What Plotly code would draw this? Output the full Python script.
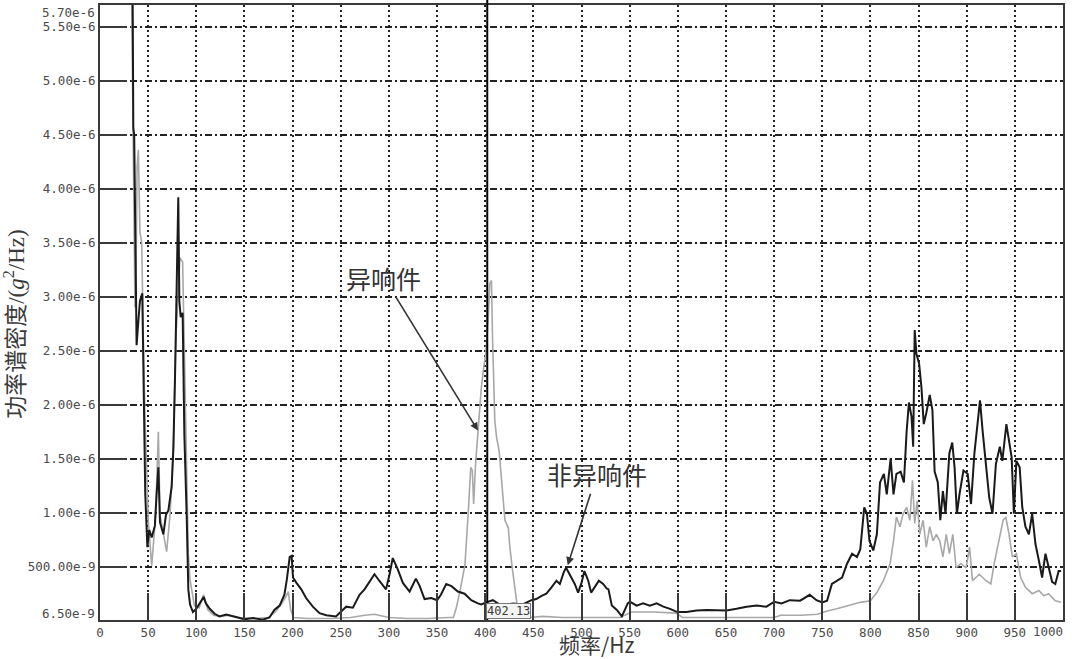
import plotly.graph_objects as go

# PSD values in units of 1e-6 g^2/Hz
freq_normal = [33.5, 34.6, 35.5, 36.3, 38, 39.8, 41.5, 43.9, 45.7, 47, 49.2, 51.2, 53.7, 57, 58.8,
               60.6, 62.3, 65.8, 68.5, 71, 74.4, 76.2, 77.9, 79.6, 81.3, 82.4, 83.8, 85.8, 87.6, 90,
               91.7, 93.5, 96.5, 100, 103.5, 107.6, 110, 114, 119, 124, 131, 138, 144, 150, 159,
               169, 176, 181, 186.5, 191.5, 194, 197, 199, 200.4, 204, 209, 214, 221, 228, 235,
               245, 250, 255.7, 262.6, 269.5, 274.7, 281.7, 285, 290, 293.8, 297, 300.7, 304, 309,
               314.5, 321.5, 328, 332, 337, 344, 350, 354, 359.5, 365, 371.6, 378.6, 385.5, 392.4,
               396, 401, 408, 415, 422, 429, 439, 448, 453, 458.5, 463.5, 469, 474, 477.5, 481.6,
               484, 488.5, 493, 496.5, 500, 503, 507, 510, 514, 518, 522.5, 526, 528, 531.5, 536.7,
               541.9, 545, 548, 550.4, 557.3, 564, 571, 578, 585, 592, 599.5, 609, 619.6, 630, 640,
               650.7, 661, 671.5, 682, 692, 700, 707.7, 716.3, 727, 737, 744, 750, 755, 760, 765.5,
               770.6, 775.8, 781, 786, 789.5, 793.6, 796.4, 799, 803, 806.7, 810, 814, 817, 821,
               824, 827, 831.4, 834.8, 837.6, 840, 842.7, 844.4, 846, 847.8, 850.6, 853, 855.4, 858,
               861.6, 864.4, 866.7, 870, 872.6, 875.3, 878, 882, 885, 887.4, 889.8, 892.5, 896.6,
               901, 904.5, 908, 911, 913.8, 916.5, 920, 923.4, 926.8, 930.3, 934.4, 937, 941.2, 944,
               946.7, 949, 951.6, 955, 957.7, 961, 964.6, 968, 971.4, 974.9, 978.3, 981.8, 985,
               988.7, 992, 995.5, 998]
psd_normal = [6.5, 4.56, 4.5, 3.76, 2.55, 2.77, 2.96, 3.03, 1.93, 1.17, 0.68, 0.84, 0.77, 0.88, 1.17,
              1.42, 0.91, 0.8, 0.98, 1.02, 1.24, 1.6, 2.26, 3.07, 3.92, 2.96, 2.81, 2.85, 1.72, 0.98,
              0.29, 0.15, 0.08, 0.11, 0.16, 0.22, 0.16, 0.11, 0.064, 0.04, 0.057, 0.04, 0.03, 0.013, 0.025,
              0.01, 0.03, 0.1, 0.14, 0.24, 0.38, 0.59, 0.6, 0.4, 0.35, 0.29, 0.21, 0.13, 0.07, 0.05,
              0.04, 0.08, 0.13, 0.12, 0.24, 0.29, 0.38, 0.43, 0.37, 0.33, 0.29, 0.43, 0.58, 0.48,
              0.35, 0.27, 0.39, 0.32, 0.2, 0.21, 0.19, 0.24, 0.34, 0.32, 0.27, 0.25, 0.19, 0.16,
              0.15, 0.17, 0.19, 0.15, 0.15, 0.16, 0.15, 0.19, 0.2, 0.23, 0.25, 0.31, 0.37, 0.34, 0.45,
              0.49, 0.42, 0.34, 0.26, 0.35, 0.46, 0.37, 0.26, 0.31, 0.37, 0.34, 0.3, 0.29, 0.14, 0.1,
              0.04, 0.1, 0.16, 0.175, 0.14, 0.16, 0.14, 0.16, 0.13, 0.11, 0.08, 0.08, 0.095, 0.1, 0.095,
              0.095, 0.11, 0.13, 0.14, 0.13, 0.175, 0.16, 0.19, 0.185, 0.24, 0.19, 0.17, 0.185, 0.34, 0.37,
              0.4, 0.53, 0.62, 0.59, 0.66, 1.05, 0.99, 0.74, 0.65, 0.8, 1.28, 1.36, 1.17, 1.5,
              1.17, 1.36, 1.38, 1.28, 1.75, 2.02, 1.89, 1.61, 2.69, 2.47, 2.38, 2.16, 1.82, 1.92,
              2.09, 1.95, 1.38, 1.28, 0.93, 1.2, 0.99, 1.55, 1.65, 1.42, 0.99, 1.17, 1.39,
              1.36, 1.08, 1.55, 1.79, 2.04, 1.76, 1.42, 1.14, 0.99, 1.45, 1.61, 1.48, 1.82, 1.67,
              1.51, 0.99, 1.48, 1.42, 1.05, 0.87, 0.8, 0.99, 0.71, 0.56, 0.4, 0.62, 0.49,
              0.36, 0.34, 0.46, 0.46]

freq_noisy = [32, 33.2, 33.9, 35, 36.3, 37.5, 38.5, 39.8, 40.5, 41.5, 43.3, 44, 45, 46.7, 48.5, 50.2,
              53.7, 57, 59, 60.6, 62.3, 65.8, 69.2, 72.7, 76, 78.9, 81.3, 83, 85.8, 87.2, 90, 91.7,
              93.5, 98, 103, 107.6, 112, 118, 125, 135, 145, 160, 175, 182, 188, 193, 195.5, 198,
              201, 215, 240, 260, 275, 285, 300, 320, 340, 355, 362, 367, 370, 374, 379, 382.5, 385,
              386.6, 388, 390, 392.5, 394.3, 396, 398.5, 400.6, 403, 404.7, 406.5, 407.6, 410, 411.8,
              414.5, 417, 420.5, 424, 425.6, 428.5, 431, 433.5, 436, 445, 460, 480, 500, 520, 540,
              552, 575, 598, 605, 650, 700, 707, 728, 745, 755, 765, 776, 789.5, 800, 806.7, 813.5,
              820.5, 824, 827, 830.7, 834, 837.6, 841, 843.7, 846, 848.5, 851.3, 854.7, 858, 861.6,
              865, 868.5, 872, 875.3, 878.8, 882, 885.6, 889, 894, 899.4, 903, 906, 913, 920, 925,
              928.6, 933.7, 937.8, 940.6, 944, 947.4, 951.6, 956, 961, 968, 975, 980, 985, 992, 998]
psd_noisy = [6.5, 5.6, 4.78, 4.3, 2.9, 3.3, 4.2, 4.36, 3.83, 3.6, 3.5, 3.0, 2.6, 1.9, 1.3, 0.91,
             0.51, 0.88, 1.3, 1.75, 0.98, 0.8, 0.64, 0.98, 1.53, 2.63, 3.1, 3.36, 3.32, 2.74, 1.53, 0.62,
             0.38, 0.14, 0.12, 0.24, 0.1, 0.05, 0.04, 0.05, 0.03, 0.02, 0.03, 0.08, 0.15, 0.22, 0.27, 0.1,
             0.03, 0.02, 0.02, 0.03, 0.05, 0.06, 0.03, 0.02, 0.02, 0.03, 0.03, 0.03, 0.12, 0.28, 0.52, 1.02, 1.42,
             1.39, 1.08, 1.45, 1.76, 1.94, 2.16, 2.35, 2.47, 2.78, 3.12, 3.15, 2.62, 1.85, 1.7,
             1.57, 1.27, 0.93, 0.86, 0.68, 0.46, 0.28, 0.12, 0.06, 0.03, 0.04, 0.03, 0.03, 0.03, 0.03,
             0.08, 0.08, 0.07, 0.03, 0.03, 0.03, 0.05, 0.05, 0.06, 0.09, 0.11, 0.14, 0.17, 0.185, 0.26, 0.37,
             0.53, 0.74, 0.96, 0.87, 0.99, 1.05, 0.93, 1.3, 0.9, 1.11, 0.8, 0.93, 0.68, 0.87,
             0.74, 0.8, 0.74, 0.59, 0.8, 0.62, 0.8, 0.49, 0.53, 0.49, 0.68, 0.37, 0.43, 0.37, 0.34,
             0.53, 0.74, 0.93, 0.96, 0.8, 0.59, 0.62, 0.4, 0.31, 0.25, 0.28, 0.23, 0.25, 0.185, 0.17]

x_ticks = [0, 50, 100, 150, 200, 250, 300, 350, 400, 450, 500, 550, 600, 650, 700, 750, 800, 850, 900, 950]
y_ticks = [0.5, 1.0, 1.5, 2.0, 2.5, 3.0, 3.5, 4.0, 4.5, 5.0, 5.5]
y_ticktext = ['500.00e-9', '1.00e-6', '1.50e-6', '2.00e-6', '2.50e-6', '3.00e-6',
              '3.50e-6', '4.00e-6', '4.50e-6', '5.00e-6', '5.50e-6']
cursor_hz = 402.13

mono = dict(family='DejaVu Sans Mono', size=12.5, color='#4a4a4a')
cjk = "'Noto Sans CJK SC', sans-serif"

fig = go.Figure([
    go.Scatter(x=freq_noisy, y=psd_noisy, mode='lines',
               line=dict(color='#a8a8a8', width=1.6), name='异响件'),
    go.Scatter(x=freq_normal, y=psd_normal, mode='lines',
               line=dict(color='#1a1a1a', width=2), name='非异响件'),
])

fig.update_xaxes(
    range=[0, 1000],
    tickvals=x_ticks,
    ticks='inside', ticklen=27, tickwidth=2, tickcolor='#3a3a3a',
    showline=True, linewidth=2, linecolor='#3a3a3a', mirror=True,
    showgrid=True, gridcolor='#222222', gridwidth=1.5, griddash='2px,3px',
    zeroline=False,
    tickfont=mono,
)
fig.update_yaxes(
    range=[0.0065, 5.70],
    tickvals=y_ticks, ticktext=y_ticktext,
    ticks='inside', ticklen=27, tickwidth=2, tickcolor='#3a3a3a',
    showline=True, linewidth=2, linecolor='#3a3a3a', mirror=True,
    showgrid=True, gridcolor='#222222', gridwidth=1.5, griddash='7px,3px,2px,3px',
    zeroline=False,
    tickfont=mono,
)

# cursor line at 402.13 Hz
fig.add_shape(type='line', x0=cursor_hz, x1=cursor_hz, yref='paper', y0=0, y1=1.01,
              line=dict(color='#000000', width=2), opacity=1, layer='above')

fig.update_layout(
    template='simple_white',
    width=1080, height=659,
    margin=dict(l=100, r=17, t=3, b=39),
    plot_bgcolor='white', paper_bgcolor='white',
    showlegend=False,
    hovermode=False,
    annotations=[
        dict(text=f'{cursor_hz:.2f}', x=cursor_hz, xanchor='left', xshift=-1,
             y=0, yref='paper', yanchor='bottom', yshift=1, showarrow=False,
             font=dict(family='DejaVu Sans Mono', size=12, color='#3a3a3a'),
             bgcolor='#f4f4f4', bordercolor='#777777', borderwidth=1, borderpad=0),
        dict(text='6.50e-9', x=0, xref='paper', xanchor='right', xshift=-3,
             y=0, yref='paper', yanchor='middle', yshift=7, showarrow=False, font=mono),
        dict(text='5.70e-6', x=0, xref='paper', xanchor='right', xshift=-3,
             y=1, yref='paper', yanchor='middle', yshift=-7, showarrow=False, font=mono),
        dict(text='1000', x=1000, xanchor='right', xshift=2,
             y=0, yref='paper', yanchor='top', yshift=-2, showarrow=False, font=mono),
        dict(text='频率/Hz', x=0.5, xref='paper', xanchor='center', xshift=15,
             y=0, yref='paper', yanchor='top', yshift=-7, showarrow=False,
             font=dict(family=cjk, size=21, color='#3a3a3a')),
        dict(text='功率谱密度/(<i>g</i><sup>2</sup>/Hz)', textangle=-90,
             x=0, xref='paper', xanchor='center', xshift=-85,
             y=0.48, yref='paper', yanchor='middle', showarrow=False,
             font=dict(family="'Liberation Serif', 'Noto Sans CJK SC', serif", size=23, color='#3a3a3a')),
        dict(text='异响件', x=392.5, y=1.76, ax=-94, ay=-153,
             showarrow=True, arrowhead=2, arrowsize=1, arrowwidth=1.6, arrowcolor='#333333',
             font=dict(family=cjk, size=25, color='#333333')),
        dict(text='非异响件', x=485.7, y=0.514, ax=29, ay=-91,
             showarrow=True, arrowhead=2, arrowsize=1, arrowwidth=1.6, arrowcolor='#333333',
             font=dict(family=cjk, size=25, color='#333333')),
    ],
)

# the page has a default 8px body margin; drop it so the figure fills the window
fig.write_html('out.html', config={'displayModeBar': False},
               post_script="document.body.style.margin='0';")
